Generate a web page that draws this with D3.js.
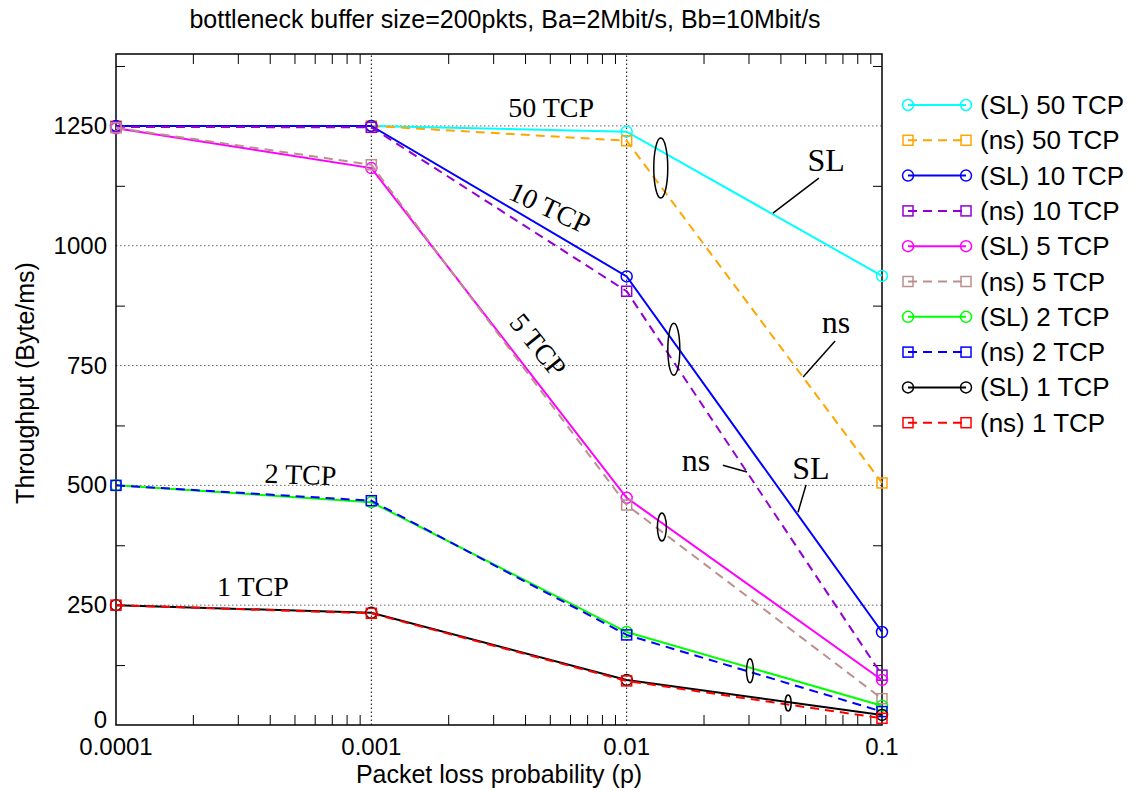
<!DOCTYPE html>
<html>
<head>
<meta charset="utf-8">
<script src="https://cdn.jsdelivr.net/npm/d3@7"></script>
<style>
  body { margin: 0; background: #fff; }
  svg text { font-family: "Liberation Sans", Arial, sans-serif; }
  .serif { font-family: "Liberation Serif", "Times New Roman", serif !important; }
</style>
</head>
<body>
<div id="content"></div>
<script>
// loss probabilities on the x axis
var lossProb = [0.0001, 0.001, 0.01, 0.1];

// throughput (Byte/ms)
var sl50 = [1250, 1250, 1238, 937];
var ns50 = [1250, 1250, 1219, 505];
var sl10 = [1250, 1250, 936, 194];
var ns10 = [1248, 1247, 905, 104];
var sl5  = [1245, 1162, 474, 94];
var ns5  = [1246, 1169, 459, 55];
var sl2  = [500, 465, 194, 40];
var ns2  = [500, 468, 188, 28];
var sl1  = [250, 234, 94, 21];
var ns1  = [250, 233, 92, 14];

var seriesNames = ['(SL) 50 TCP', '(ns) 50 TCP', '(SL) 10 TCP', '(ns) 10 TCP', '(SL) 5 TCP',
                   '(ns) 5 TCP', '(SL) 2 TCP', '(ns) 2 TCP', '(SL) 1 TCP', '(ns) 1 TCP'];
var seriesValues = [sl50, ns50, sl10, ns10, sl5, ns5, sl2, ns2, sl1, ns1];
var seriesColors = ['#00ffff', '#ffa500', '#0000ff', '#9400d3', '#ff00ff',
                    '#bc8f8f', '#00ff00', '#0000ff', '#000000', '#ff0000'];

var xTickValues = [0.0001, 0.001, 0.01, 0.1];
var xTickLabels = ['0.0001', '0.001', '0.01', '0.1'];
var yTickValues = [0, 250, 500, 750, 1000, 1250];

// annotation texts placed in data space [p, throughput, rotation, size]
var labelTexts = ['50 TCP', '10 TCP', '5 TCP', '2 TCP', '1 TCP', 'SL', 'ns', 'ns', 'SL'];
var labelPos = [[0.00506, 1269, 0, 28], [0.00501, 1079, 25, 28], [0.0045, 793, 51, 28],
                [0.000526, 503, 2, 28], [0.000344, 269, 0, 28], [0.0604, 1156, 0, 32],
                [0.0661, 818, 0, 32], [0.0187, 530, 0, 32], [0.0527, 513, 0, 32]];
var pointerLines = [[[0.0566, 1141], [0.0374, 1068]], [[0.0655, 801], [0.0491, 726]],
                    [[0.0238, 542], [0.0296, 528]], [[0.0504, 501], [0.0469, 444]]];
var ellipseCenters = [[0.0136, 1162], [0.0153, 784], [0.01374, 413], [0.0304, 113], [0.0429, 46]];
var ellipseSizes = [[7, 30], [6, 26], [4.5, 14], [3.5, 12], [3, 8]];

var width = 1135, height = 791;
var margin = { top: 54, right: 253, bottom: 66, left: 116 };
var plotW = width - margin.left - margin.right,
    plotH = height - margin.top - margin.bottom;

var svg = d3.select('#content').append('svg')
    .attr('width', width)
    .attr('height', height);

var x = d3.scaleLog().domain([0.0001, 0.1]).range([margin.left, margin.left + plotW]);
var y = d3.scaleLinear().domain([0, 1400]).range([margin.top + plotH, margin.top]);

// grid
svg.append('g').selectAll('line').data(yTickValues.filter(function(d){ return d > 0; }))
    .enter().append('line')
    .attr('x1', x(0.0001)).attr('x2', x(0.1))
    .attr('y1', function(d){ return y(d); }).attr('y2', function(d){ return y(d); })
    .style('stroke', '#666').style('stroke-width', 1).style('stroke-dasharray', '1.5,2.5');
svg.append('g').selectAll('line').data([0.001, 0.01])
    .enter().append('line')
    .attr('x1', function(d){ return x(d); }).attr('x2', function(d){ return x(d); })
    .attr('y1', y(0)).attr('y2', y(1400))
    .style('stroke', '#000').style('stroke-width', 1).style('stroke-dasharray', '1.5,2.5');

// minor ticks (inward, all four sides)
var xMinor = [];
[0.0001, 0.001, 0.01].forEach(function(b){
    for (var k = 2; k <= 9; k++) xMinor.push(b * k);
});
var yMinor = d3.range(125, 1400, 250);

var bottomAxis = d3.axisBottom(x).tickValues(xMinor).tickSize(-10).tickFormat('');
var topAxis = d3.axisTop(x).tickValues(xMinor).tickSize(-10).tickFormat('');
var leftAxis = d3.axisLeft(y).tickValues(yMinor).tickSize(-9).tickFormat('');
var rightAxis = d3.axisRight(y).tickValues(yMinor).tickSize(-9).tickFormat('');

[[bottomAxis, 'translate(0,' + y(0) + ')'], [topAxis, 'translate(0,' + y(1400) + ')'],
 [leftAxis, 'translate(' + x(0.0001) + ',0)'], [rightAxis, 'translate(' + x(0.1) + ',0)']]
.forEach(function(a){
    var g = svg.append('g').attr('transform', a[1]);
    a[0].tickSizeOuter(0)(g);
    g.select('.domain').remove();
    g.selectAll('line').style('stroke', '#000').style('stroke-width', 1);
});

// frame
svg.append('rect')
    .attr('x', x(0.0001)).attr('y', y(1400))
    .attr('width', x(0.1) - x(0.0001)).attr('height', y(0) - y(1400))
    .style('fill', 'none').style('stroke', '#000').style('stroke-width', 1.5);

// tick labels
svg.append('g').selectAll('text').data(xTickValues)
    .enter().append('text')
    .attr('x', function(d){ return x(d); })
    .attr('y', y(0) + 30)
    .attr('text-anchor', 'middle')
    .style('font-size', '24px')
    .text(function(d, i){ return xTickLabels[i]; });
svg.append('g').selectAll('text').data(yTickValues)
    .enter().append('text')
    .attr('x', x(0.0001) - 9)
    .attr('y', function(d){ return y(d) + (d === 0 ? 3 : 8); })
    .attr('text-anchor', 'end')
    .style('font-size', '24px')
    .text(function(d){ return d; });

// titles
svg.append('text')
    .attr('x', 505).attr('y', 28)
    .attr('text-anchor', 'middle')
    .style('font-size', '25px')
    .text('bottleneck buffer size=200pkts, Ba=2Mbit/s, Bb=10Mbit/s');
svg.append('text')
    .attr('x', (x(0.0001) + x(0.1)) / 2).attr('y', 783)
    .attr('text-anchor', 'middle')
    .style('font-size', '25px')
    .text('Packet loss probability (p)');
svg.append('text')
    .attr('transform', 'translate(34,383) rotate(-90)')
    .attr('text-anchor', 'middle')
    .style('font-size', '25px')
    .text('Throughput (Byte/ms)');

// series
var line = d3.line()
    .x(function(d, i){ return x(lossProb[i]); })
    .y(function(d){ return y(d); });

function drawMarker(g, cx, cy, isSL, color) {
    if (isSL) {
        g.append('circle').attr('cx', cx).attr('cy', cy).attr('r', 5.5)
            .style('fill', 'none').style('stroke', color).style('stroke-width', 1.5);
    } else {
        g.append('rect').attr('x', cx - 5).attr('y', cy - 5).attr('width', 10).attr('height', 10)
            .style('fill', 'none').style('stroke', color).style('stroke-width', 1.5);
    }
}

seriesValues.forEach(function(vals, s){
    var isSL = s % 2 === 0;
    var g = svg.append('g');
    g.append('path')
        .attr('d', line(vals))
        .style('fill', 'none')
        .style('stroke', seriesColors[s])
        .style('stroke-width', 2)
        .style('stroke-dasharray', isSL ? null : '9,6');
    vals.forEach(function(v, i){
        drawMarker(g, x(lossProb[i]), y(v), isSL, seriesColors[s]);
    });
});

// annotations
labelTexts.forEach(function(t, i){
    var p = labelPos[i];
    var tx = x(p[0]), ty = y(p[1]);
    svg.append('text')
        .attr('class', 'serif')
        .attr('transform', 'translate(' + tx + ',' + ty + ') rotate(' + p[2] + ')')
        .attr('text-anchor', 'middle')
        .attr('dominant-baseline', (p[2] > 10) ? 'central' : 'auto')
        .style('font-size', p[3] + 'px')
        .text(t);
});
pointerLines.forEach(function(l){
    svg.append('line')
        .attr('x1', x(l[0][0])).attr('y1', y(l[0][1]))
        .attr('x2', x(l[1][0])).attr('y2', y(l[1][1]))
        .style('stroke', '#000').style('stroke-width', 1.5);
});
ellipseCenters.forEach(function(c, i){
    svg.append('ellipse')
        .attr('cx', x(c[0])).attr('cy', y(c[1]))
        .attr('rx', ellipseSizes[i][0]).attr('ry', ellipseSizes[i][1])
        .style('fill', 'none').style('stroke', '#000').style('stroke-width', 1.5);
});

// legend
var legend = svg.append('g');
seriesNames.forEach(function(name, s){
    var isSL = s % 2 === 0;
    var ly = 105 + s * 35.3;
    legend.append('line')
        .attr('x1', 908).attr('x2', 966).attr('y1', ly).attr('y2', ly)
        .style('stroke', seriesColors[s]).style('stroke-width', 2)
        .style('stroke-dasharray', isSL ? null : '9,6');
    drawMarker(legend, 908, ly, isSL, seriesColors[s]);
    drawMarker(legend, 966, ly, isSL, seriesColors[s]);
    legend.append('text')
        .attr('x', 980).attr('y', ly + 9)
        .style('font-size', '26px')
        .text(name);
});
</script>
</body>
</html>
